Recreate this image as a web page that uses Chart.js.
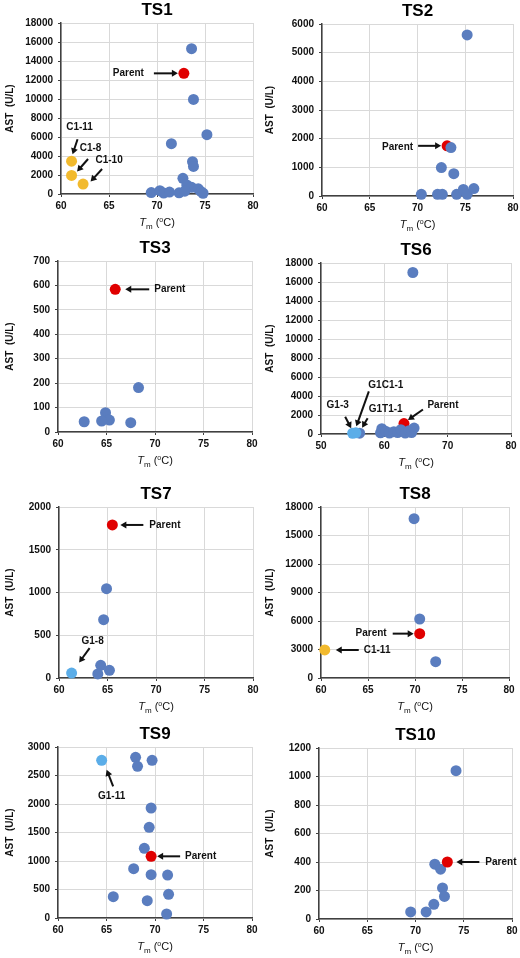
<!DOCTYPE html>
<html>
<head>
<meta charset="utf-8">
<script src="https://cdn.jsdelivr.net/npm/chart.js@4.4.1/dist/chart.umd.min.js"></script>
<style>
html, body { margin: 0; padding: 0; background: #fff; }
#wrap { position: relative; width: 520px; height: 958px; overflow: hidden; }
#wrap canvas { position: absolute; }
</style>
</head>
<body>
<div id="wrap"></div>
<script>
// panel names and axis ranges
var panelNames = ['TS1', 'TS2', 'TS3', 'TS6', 'TS7', 'TS8', 'TS9', 'TS10'];
var xMin  = [60, 60, 60, 50, 60, 60, 60, 60];
var xMax  = [80, 80, 80, 80, 80, 80, 80, 80];
var xStep = [5, 5, 5, 10, 5, 5, 5, 5];
var yMax  = [18000, 6000, 700, 18000, 2000, 18000, 3000, 1200];
var yStep = [2000, 1000, 100, 2000, 500, 3000, 500, 200];
var yTitle = 'AST  (U/L)';

// points as [Tm, AST]
var ts1Blue = [[73.6, 15300], [73.8, 9950], [75.2, 6250], [71.5, 5300], [73.7, 3400], [73.8, 2900],
  [72.7, 1650], [73.1, 950], [73.6, 700], [74.3, 550], [74.6, 250], [74.8, 80], [69.4, 150],
  [70.3, 350], [70.7, 100], [71.3, 200], [72.3, 120], [72.9, 300]];
var ts1Red = [[72.8, 12700]];
var ts1Yellow = [[61.1, 3450], [61.1, 1950], [62.3, 1050]];

var ts2Blue = [[75.2, 5620], [73.5, 1690], [72.5, 990], [73.8, 780], [70.4, 60], [72.1, 60],
  [72.6, 60], [74.1, 60], [74.8, 230], [75.2, 60], [75.9, 260]];
var ts2Red = [[73.1, 1750]];

var ts3Blue = [[68.3, 182], [64.9, 79], [65.3, 49], [64.5, 45], [62.7, 42], [67.5, 38]];
var ts3Red = [[65.9, 584]];

var ts6Blue = [[64.5, 17000], [56.1, 90], [59.6, 560], [59.4, 120], [60.2, 300], [60.8, 100],
  [61.5, 250], [62.1, 150], [62.6, 450], [63.3, 100], [63.9, 350], [64.3, 150], [64.7, 620]];
var ts6Red = [[63.1, 1100]];
var ts6Light = [[55.0, 80], [55.5, 120]];

var ts7Blue = [[64.9, 1045], [64.6, 682], [64.3, 148], [65.2, 90], [64.0, 47]];
var ts7Red = [[65.5, 1790]];
var ts7Light = [[61.3, 58]];

var ts8Blue = [[69.9, 16770], [70.5, 6210], [72.2, 1720]];
var ts8Red = [[70.5, 4670]];
var ts8Yellow = [[60.4, 2950]];

var ts9Blue = [[68.0, 2819], [68.2, 2661], [69.7, 2766], [69.6, 1930], [69.4, 1590], [68.9, 1222],
  [67.8, 865], [69.6, 760], [71.3, 754], [65.7, 374], [71.4, 415], [69.2, 304], [71.2, 70]];
var ts9Red = [[69.6, 1082]];
var ts9Light = [[64.5, 2766]];

var ts10Blue = [[74.2, 1041], [72.0, 385], [72.6, 350], [72.8, 218], [73.0, 158], [71.9, 103],
  [69.5, 50], [71.1, 50]];
var ts10Red = [[73.3, 400]];

var BLUE = '#5A7DBF', RED = '#E00000', YELLOW = '#F2BA2E', LIGHT = '#5BADE8';
var FONT = '"Liberation Sans", Arial, sans-serif';

// first listed series is drawn on top
var panelSeries = [
  [[ts1Red, RED], [ts1Yellow, YELLOW], [ts1Blue, BLUE]],
  [[ts2Blue, BLUE], [ts2Red, RED]],
  [[ts3Red, RED], [ts3Blue, BLUE]],
  [[ts6Light, LIGHT], [ts6Blue, BLUE], [ts6Red, RED]],
  [[ts7Red, RED], [ts7Light, LIGHT], [ts7Blue, BLUE]],
  [[ts8Red, RED], [ts8Yellow, YELLOW], [ts8Blue, BLUE]],
  [[ts9Red, RED], [ts9Light, LIGHT], [ts9Blue, BLUE]],
  [[ts10Red, RED], [ts10Blue, BLUE]]
];

// callouts: anchored at a data point, offsets in px
var panelNotes = [
  [
    { text: 'Parent', at: ts1Red[0], head: [-6, 0], tail: [-30, 0], label: [-40, 0], align: 'right' },
    { text: 'C1-11', at: ts1Yellow[0], head: [1, -7], tail: [6, -22], label: [8, -34], align: 'center' },
    { text: 'C1-8', at: ts1Yellow[1], head: [5.5, -4], tail: [16.5, -16.5], label: [19, -27], align: 'center' },
    { text: 'C1-10', at: ts1Yellow[2], head: [7.5, -2.5], tail: [19, -15], label: [26, -24], align: 'center' }
  ],
  [
    { text: 'Parent', at: ts2Red[0], head: [-6, 0], tail: [-29, 0], label: [-34, 1], align: 'right' }
  ],
  [
    { text: 'Parent', at: ts3Red[0], head: [10, 0], tail: [34, 0], label: [39, 0], align: 'left' }
  ],
  [
    { text: 'G1-3', at: ts6Light[0], head: [-1.5, -5], tail: [-7.5, -16.5], label: [-15, -28], align: 'center' },
    { text: 'G1C1-1', at: ts6Light[1], head: [0.5, -6.5], tail: [13, -41.5], label: [30, -48], align: 'center' },
    { text: 'G1T1-1', at: ts6Blue[1], head: [2.5, -5.5], tail: [8, -15], label: [26, -24], align: 'center' },
    { text: 'Parent', at: ts6Red[0], head: [4, -3.5], tail: [19, -14], label: [39, -18], align: 'center' }
  ],
  [
    { text: 'Parent', at: ts7Red[0], head: [8, 0], tail: [31, 0], label: [37, 0], align: 'left' },
    { text: 'G1-8', at: ts7Light[0], head: [7.5, -10.5], tail: [18, -25], label: [21, -32], align: 'center' }
  ],
  [
    { text: 'Parent', at: ts8Red[0], head: [-6, 0], tail: [-27, 0], label: [-33, 0], align: 'right' },
    { text: 'C1-11', at: ts8Yellow[0], head: [11, 0], tail: [34, 0], label: [39, 0], align: 'left' }
  ],
  [
    { text: 'Parent', at: ts9Red[0], head: [6, 0], tail: [29, 0], label: [34, 0], align: 'left' },
    { text: 'G1-11', at: ts9Light[0], head: [5, 9.5], tail: [11.5, 26], label: [10, 36], align: 'center' }
  ],
  [
    { text: 'Parent', at: ts10Red[0], head: [9, 0], tail: [32, 0], label: [38, 0], align: 'left' }
  ]
];

// canvas placement and plot area (relative to canvas)
var panelBox = [
  { left: 0,   top: 0,   h: 240, L: 61, T: 23, R: 253, B: 194 },
  { left: 260, top: 0,   h: 240, L: 62, T: 24, R: 253, B: 196 },
  { left: 0,   top: 240, h: 232, L: 58, T: 21, R: 252, B: 192 },
  { left: 260, top: 240, h: 232, L: 61, T: 23, R: 251, B: 194 },
  { left: 0,   top: 460, h: 258, L: 59, T: 47, R: 253, B: 218 },
  { left: 260, top: 460, h: 258, L: 61, T: 47, R: 249, B: 218 },
  { left: 0,   top: 705, h: 253, L: 58, T: 42, R: 252, B: 213 },
  { left: 260, top: 705, h: 253, L: 59, T: 43, R: 252, B: 214 }
];

function drawArrow(ctx, x1, y1, x2, y2) {
  var a = Math.atan2(y2 - y1, x2 - x1), hl = 6, hw = 3.5;
  var bx = x2 - Math.cos(a) * hl, by = y2 - Math.sin(a) * hl;
  ctx.lineWidth = 2;
  ctx.beginPath();
  ctx.moveTo(x1, y1);
  ctx.lineTo(bx + Math.cos(a) * 1, by + Math.sin(a) * 1);
  ctx.stroke();
  ctx.beginPath();
  ctx.moveTo(x2, y2);
  ctx.lineTo(bx + Math.sin(a) * hw, by - Math.cos(a) * hw);
  ctx.lineTo(bx - Math.sin(a) * hw, by + Math.cos(a) * hw);
  ctx.closePath();
  ctx.fill();
}

var calloutPlugin = {
  id: 'callouts',
  afterDraw: function(chart, args, opts) {
    var ctx = chart.ctx, xs = chart.scales.x, ys = chart.scales.y, area = chart.chartArea;
    ctx.save();
    ctx.fillStyle = '#111';
    ctx.strokeStyle = '#111';
    opts.notes.forEach(function(n) {
      var px = xs.getPixelForValue(n.at[0]), py = ys.getPixelForValue(n.at[1]);
      drawArrow(ctx, px + n.tail[0], py + n.tail[1], px + n.head[0], py + n.head[1]);
      ctx.font = 'bold 10px ' + FONT;
      ctx.textAlign = n.align;
      ctx.textBaseline = 'middle';
      ctx.fillText(n.text, px + n.label[0], py + n.label[1]);
    });

    // x axis title: T italic, m subscript, (oC) with superscript o
    var parts = [
      { t: 'T', f: 'italic 11px ', dy: 0 },
      { t: 'm', f: '8px ', dy: 2.5 },
      { t: ' (', f: '11px ', dy: 0 },
      { t: 'o', f: '7px ', dy: -4.5 },
      { t: 'C)', f: '11px ', dy: 0 }
    ];
    var total = 0;
    parts.forEach(function(p) { ctx.font = p.f + FONT; p.w = ctx.measureText(p.t).width; total += p.w; });
    var x = (area.left + area.right) / 2 - total / 2, y = area.bottom + 32;
    ctx.textAlign = 'left';
    ctx.textBaseline = 'alphabetic';
    parts.forEach(function(p) {
      ctx.font = p.f + FONT;
      ctx.fillText(p.t, x, y + p.dy);
      x += p.w;
    });
    ctx.restore();
  }
};

var wrap = document.getElementById('wrap');

panelNames.forEach(function(name, i) {
  var box = panelBox[i];
  var canvas = document.createElement('canvas');
  canvas.width = 260;
  canvas.height = box.h;
  canvas.style.left = box.left + 'px';
  canvas.style.top = box.top + 'px';
  canvas.style.width = '260px';
  canvas.style.height = box.h + 'px';
  wrap.appendChild(canvas);

  var datasets = panelSeries[i].map(function(s) {
    return {
      data: s[0].map(function(p) { return { x: p[0], y: p[1] }; }),
      backgroundColor: s[1],
      borderColor: s[1],
      pointRadius: 5.5,
      pointHoverRadius: 5.5,
      pointBorderWidth: 0,
      clip: false
    };
  });

  new Chart(canvas, {
    type: 'scatter',
    data: { datasets: datasets },
    options: {
      responsive: false,
      animation: false,
      events: [],
      devicePixelRatio: 1,
      layout: { padding: { left: 0, top: 0, right: 260 - box.R, bottom: 0 } },
      plugins: {
        legend: { display: false },
        tooltip: { enabled: false },
        title: {
          display: true,
          text: name,
          fullSize: false,
          color: '#000',
          font: { family: FONT, size: 17, weight: 'bold', lineHeight: 1 },
          padding: { top: box.T - 21, bottom: 4 }
        },
        callouts: { notes: panelNotes[i] }
      },
      scales: {
        x: {
          type: 'linear',
          min: xMin[i],
          max: xMax[i],
          grid: { color: '#d9d9d9', lineWidth: 1, tickLength: 3, tickColor: '#404040' },
          border: { color: '#404040', width: 1.5 },
          ticks: {
            stepSize: xStep[i], autoSkip: false, maxRotation: 0, padding: 3,
            color: '#111', font: { family: FONT, size: 10, weight: 'bold' },
            callback: function(v) { return String(v); }
          },
          afterFit: function(s) { s.height = box.h - box.B; s.paddingLeft = 0; s.paddingRight = 0; }
        },
        y: {
          type: 'linear',
          min: 0,
          max: yMax[i],
          grid: { color: '#d9d9d9', lineWidth: 1, tickLength: 3, tickColor: '#404040' },
          border: { color: '#404040', width: 1.5 },
          ticks: {
            stepSize: yStep[i], autoSkip: false, padding: 5,
            color: '#111', font: { family: FONT, size: 10, weight: 'bold' },
            callback: function(v) { return String(v); }
          },
          title: {
            display: true, text: yTitle, color: '#111',
            font: { family: FONT, size: 10, weight: 'bold', lineHeight: 1.2 },
            padding: { top: 4, bottom: 0 }
          },
          afterFit: function(s) { s.width = box.L; s.paddingTop = 0; s.paddingBottom = 0; }
        }
      }
    },
    plugins: [calloutPlugin]
  });
});
</script>
</body>
</html>
